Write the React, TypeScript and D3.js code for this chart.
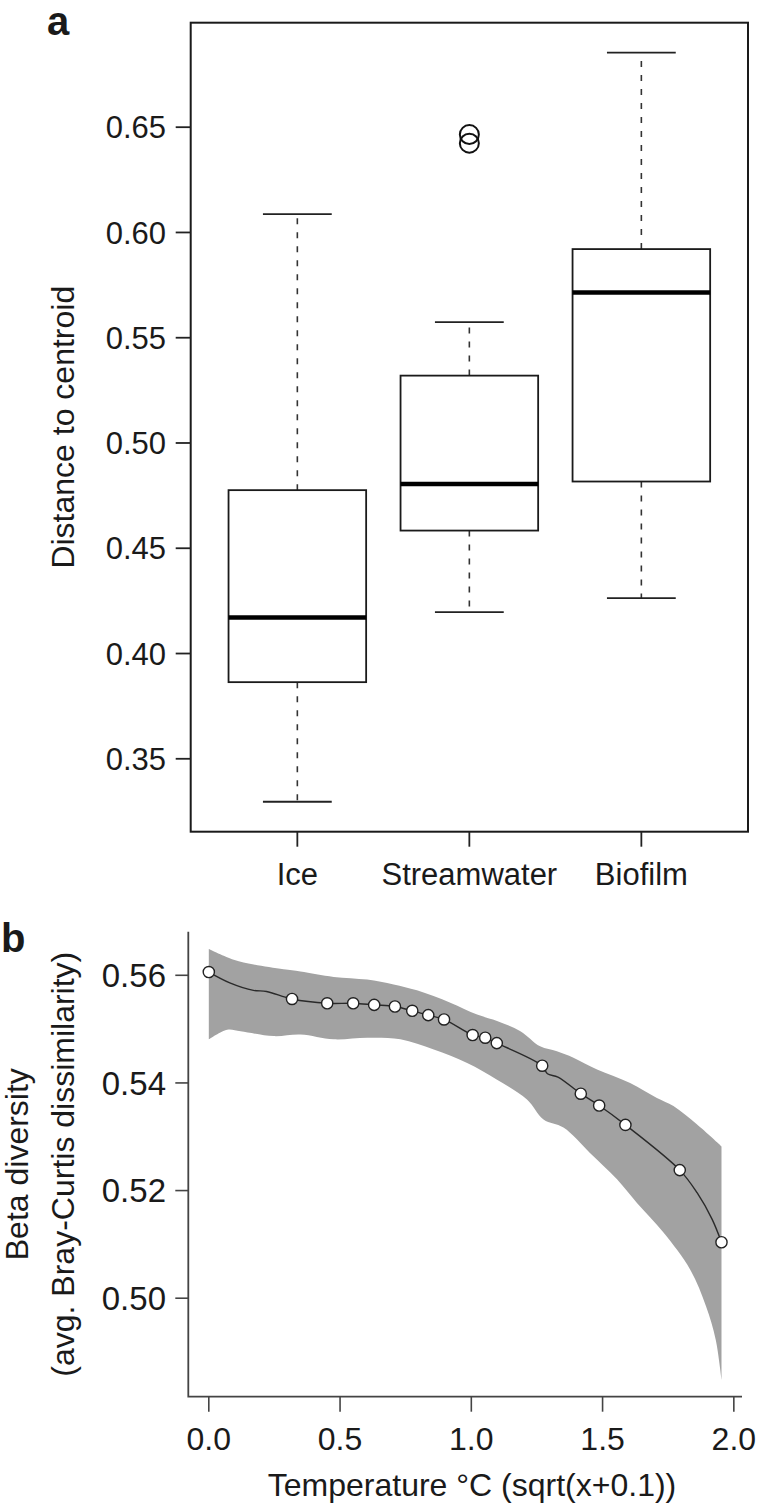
import React from 'react';
import * as d3 from 'd3';

// ---------- Panel a: boxplot data ----------
const groups = ['Ice', 'Streamwater', 'Biofilm'];
const whiskerLow = [0.3296, 0.4197, 0.4263];
const quart1 = [0.3864, 0.4584, 0.4817];
const medians = [0.4171, 0.4805, 0.5715];
const quart3 = [0.4776, 0.532, 0.5921];
const whiskerHigh = [0.6087, 0.5574, 0.6854];
const outlierGroup = [1, 1];
const outlierValue = [0.6465, 0.6424];
const yTicksA = [0.35, 0.4, 0.45, 0.5, 0.55, 0.6, 0.65];

// ---------- Panel b: beta diversity vs temperature ----------
const pointX = [0, 0.317, 0.451, 0.55, 0.63, 0.709, 0.775, 0.836, 0.896, 1.005, 1.053, 1.097, 1.27, 1.417, 1.487, 1.587, 1.794, 1.953];
const pointY = [0.5606, 0.5556, 0.5548, 0.5548, 0.5545, 0.5542, 0.5534, 0.5526, 0.5518, 0.5489, 0.5484, 0.5474, 0.5432, 0.538, 0.5358, 0.5322, 0.5238, 0.5104];
const lineX = [0, 0.08, 0.17, 0.22, 0.317, 0.451, 0.55, 0.63, 0.709, 0.775, 0.836, 0.896, 1.005, 1.053, 1.097, 1.27, 1.29, 1.33, 1.417, 1.487, 1.587, 1.794, 1.86, 1.917, 1.953];
const lineY = [0.5606, 0.5586, 0.5572, 0.557, 0.5556, 0.5548, 0.5548, 0.5545, 0.5542, 0.5534, 0.5526, 0.5518, 0.5489, 0.5484, 0.5474, 0.5432, 0.5417, 0.5411, 0.538, 0.5358, 0.5322, 0.5238, 0.5196, 0.5147, 0.5104];
const bandUpperX = [0, 0.095, 0.171, 0.285, 0.349, 0.476, 0.603, 0.704, 0.793, 0.92, 1.022, 1.098, 1.187, 1.262, 1.326, 1.389, 1.479, 1.605, 1.707, 1.77, 1.859, 1.953];
const bandUpperY = [0.5649, 0.5629, 0.562, 0.5611, 0.5607, 0.5597, 0.5592, 0.5583, 0.5572, 0.5549, 0.5527, 0.5515, 0.5496, 0.5468, 0.5459, 0.5447, 0.5425, 0.54, 0.5372, 0.5357, 0.5323, 0.5282];
const bandLowerX = [0, 0.07, 0.121, 0.247, 0.349, 0.476, 0.603, 0.73, 0.857, 0.984, 1.098, 1.212, 1.275, 1.351, 1.452, 1.555, 1.631, 1.732, 1.834, 1.894, 1.931, 1.953];
const bandLowerY = [0.5481, 0.5499, 0.5496, 0.5487, 0.549, 0.5481, 0.5484, 0.5481, 0.5462, 0.5437, 0.5406, 0.5369, 0.5332, 0.5317, 0.527, 0.5221, 0.5177, 0.5122, 0.5053, 0.4985, 0.4923, 0.4849];
const yTicksB = [0.5, 0.52, 0.54, 0.56];
const xTicksB = [0, 0.5, 1, 1.5, 2];

const FONT = "'Liberation Sans', Arial, Helvetica, sans-serif";
const INK = '#1a1a1a';

function pad(lo: number, hi: number): [number, number] {
  const r = hi - lo;
  return [lo - 0.04 * r, hi + 0.04 * r];
}

export default function App() {
  // ----- Panel a layout -----
  const aL = 190.7, aR = 748, aT = 22.7, aB = 831.7;
  const allA = [...whiskerLow, ...whiskerHigh, ...outlierValue];
  const yA = d3.scaleLinear().domain(pad(d3.min(allA)!, d3.max(allA)!)).range([aB, aT]);
  const xA = d3.scaleLinear().domain([0.38, groups.length + 0.62]).range([aL, aR]);
  const unitA = xA(2) - xA(1);
  const boxW = unitA * 0.8;
  const capW = boxW * 0.5;

  // ----- Panel b layout -----
  const bL = 188.3, bR = 742, bT = 931.7, bB = 1396.7;
  const allBY = [...bandUpperY, ...bandLowerY];
  const yB = d3.scaleLinear().domain(pad(d3.min(allBY)!, d3.max(allBY)!)).range([bB, bT]);
  const xB = d3.scaleLinear().domain(pad(0, d3.max(pointX)!)).range([bL, bR]);

  const lineGen = d3.line<[number, number]>().x(d => xB(d[0])).y(d => yB(d[1])).curve(d3.curveCatmullRom.alpha(0.5));
  const upperPts: [number, number][] = bandUpperX.map((x, i) => [x, bandUpperY[i]]);
  const lowerPts: [number, number][] = bandLowerX.map((x, i) => [x, bandLowerY[i]]).reverse() as [number, number][];
  const bandPath = lineGen(upperPts)! + lineGen(lowerPts)!.replace(/^M/, 'L') + 'Z';
  const fitPath = lineGen(lineX.map((x, i) => [x, lineY[i]] as [number, number]))!;

  const aCenterY = (aT + aB) / 2;
  const bCenterY = (bT + bB) / 2;

  return (
    <svg width={758} height={1504} style={{ position: 'absolute', left: 0, top: 0, background: '#fff' }} fontFamily={FONT}>
      <rect x={0} y={0} width={758} height={1504} fill="#fff" />
      {/* ================= Panel a ================= */}
      <text x={47} y={35} fontSize={40} fontWeight="bold" fill={INK}>a</text>
      {/* boxes */}
      {groups.map((g, i) => {
        const cx = xA(i + 1);
        return (
          <g key={g}>
            <line x1={cx} x2={cx} y1={yA(quart3[i])} y2={yA(whiskerHigh[i])} stroke="#333" strokeWidth={1.6} strokeDasharray="6,8" />
            <line x1={cx} x2={cx} y1={yA(quart1[i])} y2={yA(whiskerLow[i])} stroke="#333" strokeWidth={1.6} strokeDasharray="6,8" />
            <line x1={cx - capW / 2} x2={cx + capW / 2} y1={yA(whiskerHigh[i])} y2={yA(whiskerHigh[i])} stroke="#222" strokeWidth={1.8} />
            <line x1={cx - capW / 2} x2={cx + capW / 2} y1={yA(whiskerLow[i])} y2={yA(whiskerLow[i])} stroke="#222" strokeWidth={1.8} />
            <rect x={cx - boxW / 2} y={yA(quart3[i])} width={boxW} height={yA(quart1[i]) - yA(quart3[i])} fill="#fff" stroke="#1a1a1a" strokeWidth={1.8} />
            <line x1={cx - boxW / 2} x2={cx + boxW / 2} y1={yA(medians[i])} y2={yA(medians[i])} stroke="#000" strokeWidth={4.5} />
          </g>
        );
      })}
      {outlierValue.map((v, i) => (
        <circle key={i} cx={xA(outlierGroup[i] + 1)} cy={yA(v)} r={9.5} fill="none" stroke="#111" strokeWidth={2} />
      ))}
      {/* frame */}
      <rect x={aL} y={aT} width={aR - aL} height={aB - aT} fill="none" stroke="#1a1a1a" strokeWidth={2} />
      {/* y axis */}
      {yTicksA.map(t => (
        <g key={t}>
          <line x1={aL - 15} x2={aL} y1={yA(t)} y2={yA(t)} stroke="#222" strokeWidth={1.8} />
          <text x={166} y={yA(t)} dy="0.36em" textAnchor="end" fontSize={31} fill={INK}>{t.toFixed(2)}</text>
        </g>
      ))}
      {/* x axis */}
      {groups.map((g, i) => (
        <g key={g}>
          <line x1={xA(i + 1)} x2={xA(i + 1)} y1={aB} y2={aB + 15} stroke="#222" strokeWidth={1.8} />
          <text x={xA(i + 1)} y={885} textAnchor="middle" fontSize={31} fill={INK}>{g}</text>
        </g>
      ))}
      <text transform={`translate(74,${aCenterY}) rotate(-90)`} textAnchor="middle" fontSize={32} fill={INK}>Distance to centroid</text>

      {/* ================= Panel b ================= */}
      <text x={1} y={952} fontSize={40} fontWeight="bold" fill={INK}>b</text>
      <path d={bandPath} fill="#a2a2a2" stroke="none" />
      <path d={fitPath} fill="none" stroke="#2a2a2a" strokeWidth={1.4} />
      {pointX.map((x, i) => (
        <circle key={i} cx={xB(x)} cy={yB(pointY[i])} r={5.6} fill="#fff" stroke="#222" strokeWidth={1.4} />
      ))}
      {/* L-shaped box */}
      <path d={`M${bL},${bT}V${bB}H${bR}`} fill="none" stroke="#444" strokeWidth={1.8} />
      {yTicksB.map(t => (
        <g key={t}>
          <line x1={bL - 13} x2={bL} y1={yB(t)} y2={yB(t)} stroke="#444" strokeWidth={1.6} />
          <text x={166} y={yB(t)} dy="0.36em" textAnchor="end" fontSize={33} fill={INK}>{t.toFixed(2)}</text>
        </g>
      ))}
      {xTicksB.map(t => (
        <g key={t}>
          <line x1={xB(t)} x2={xB(t)} y1={bB} y2={bB + 15} stroke="#444" strokeWidth={1.6} />
          <text x={xB(t)} y={1450} textAnchor="middle" fontSize={32} fill={INK}>{t.toFixed(1)}</text>
        </g>
      ))}
      <text x={472} y={1496} textAnchor="middle" fontSize={32} fill={INK}>Temperature °C (sqrt(x+0.1))</text>
      <text transform={`translate(28,${bCenterY}) rotate(-90)`} textAnchor="middle" fontSize={32} fill={INK}>Beta diversity</text>
      <text transform={`translate(74,${bCenterY}) rotate(-90)`} textAnchor="middle" fontSize={32} fill={INK}>(avg. Bray-Curtis dissimilarity)</text>
    </svg>
  );
}
